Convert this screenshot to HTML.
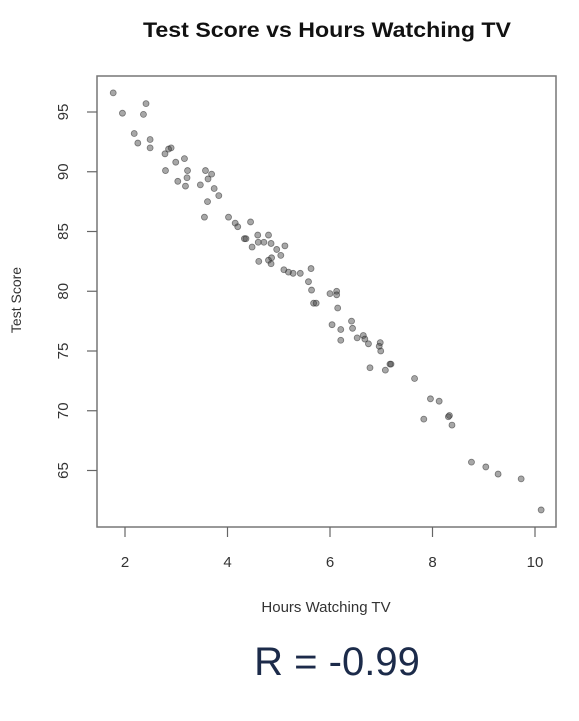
<!DOCTYPE html>
<html><head><meta charset="utf-8"><style>
body{margin:0;background:#fff;width:579px;height:716px;overflow:hidden;font-family:"Liberation Sans",sans-serif}
</style></head><body>
<svg id="chart" width="579" height="716" xmlns="http://www.w3.org/2000/svg" font-family="Liberation Sans, sans-serif">
<text x="327" y="37" text-anchor="middle" font-size="21" font-weight="bold" fill="#111" textLength="368" lengthAdjust="spacingAndGlyphs">Test Score vs Hours Watching TV</text>
<rect x="97" y="76" width="459" height="451" fill="none" stroke="#777" stroke-width="1.5"/>
<g id="xticks"></g><g id="yticks"></g><g id="points"></g>
<text x="326" y="612" text-anchor="middle" font-size="15" fill="#333">Hours Watching TV</text>
<text transform="translate(21,300) rotate(-90)" text-anchor="middle" font-size="14" fill="#333">Test Score</text>
<text x="337" y="675" text-anchor="middle" font-size="40" fill="#1c2b4a">R = -0.99</text>
</svg>
<script>
const xTicks=[2,4,6,8,10];
const yTicks=[65,70,75,80,85,90,95];
const hours=[1.77,1.95,2.41,2.36,2.18,2.25,2.49,2.49,2.90,2.85,2.78,2.99,3.16,2.79,3.22,3.03,3.21,3.18,3.57,3.69,3.62,3.47,3.74,3.83,3.61,3.55,4.02,4.15,4.20,4.45,4.33,4.36,4.59,4.80,4.48,4.60,4.71,4.85,5.12,4.96,5.04,4.61,4.80,4.85,4.86,5.10,5.19,5.28,5.42,5.63,5.58,5.64,5.68,5.73,6.00,6.13,6.13,6.15,6.04,6.21,6.21,6.42,6.44,6.53,6.65,6.68,6.75,6.98,6.96,6.99,6.78,7.08,7.17,7.19,7.65,7.96,8.13,7.83,8.33,8.31,8.38,8.76,9.04,9.28,9.73,10.12];
const scores=[96.6,94.9,95.7,94.8,93.2,92.4,92.7,92.0,92.0,91.9,91.5,90.8,91.1,90.1,90.1,89.2,89.5,88.8,90.1,89.8,89.4,88.9,88.6,88.0,87.5,86.2,86.2,85.7,85.4,85.8,84.4,84.4,84.7,84.7,83.7,84.1,84.1,84.0,83.8,83.5,83.0,82.5,82.6,82.3,82.8,81.8,81.6,81.5,81.5,81.9,80.8,80.1,79.0,79.0,79.8,80.0,79.7,78.6,77.2,76.8,75.9,77.5,76.9,76.1,76.3,76.0,75.6,75.7,75.4,75.0,73.6,73.4,73.9,73.9,72.7,71.0,70.8,69.3,69.6,69.5,68.8,65.7,65.3,64.7,64.3,61.7];
const NS="http://www.w3.org/2000/svg";
function sx(v){return 125+(v-2)*51.25;}
function sy(v){return 112+(95-v)*11.95;}
function mk(t,a,p){const e=document.createElementNS(NS,t);for(const k in a)e.setAttribute(k,a[k]);p.appendChild(e);return e;}
const gx=document.getElementById('xticks'),gy=document.getElementById('yticks'),gp=document.getElementById('points');
xTicks.forEach(v=>{
 const l=mk('line',{x1:sx(v),x2:sx(v),y1:527,y2:537,stroke:'#666','stroke-width':1.2},gx);
 
 
 const t=mk('text',{x:sx(v),y:567,'text-anchor':'middle','font-size':15,fill:'#333'},gx);t.textContent=v;
 
 
});
yTicks.forEach(v=>{
 const l=mk('line',{x1:87,x2:97,y1:sy(v),y2:sy(v),stroke:'#666','stroke-width':1.2},gy);
 
 
 const t=mk('text',{transform:`translate(68,${sy(v)}) rotate(-90)`,'text-anchor':'middle','font-size':15,fill:'#333'},gy);t.textContent=v;
 
 
});
hours.forEach((h,i)=>{
 const c=mk('circle',{cx:sx(h),cy:sy(scores[i]),r:3,fill:'rgba(60,60,60,0.45)',stroke:'rgba(40,40,40,0.55)','stroke-width':0.8},gp);
 
 
});
</script>
</body></html>
